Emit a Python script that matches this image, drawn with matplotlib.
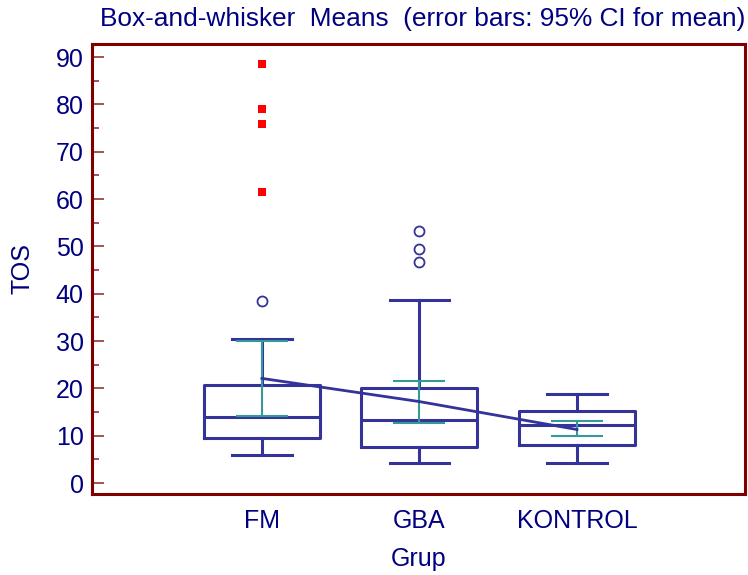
import matplotlib
matplotlib.use("Agg")
import matplotlib.pyplot as plt
import numpy as np
from matplotlib.ticker import MultipleLocator

plt.rcParams['font.family'] = ['Liberation Sans', 'DejaVu Sans']

# Group summaries for TOS
groups = ["FM", "GBA", "KONTROL"]
whisker_low = [5.9, 4.2, 4.3]
q1 = [9.6, 7.7, 8.0]
median = [14.0, 13.4, 12.2]
q3 = [20.7, 20.0, 15.3]
whisker_high = [30.4, 38.7, 18.7]
outside = [[38.5], [46.6, 49.4, 53.2], []]
far_out = [[61.5, 75.9, 79.0, 88.5], [], []]
mean = [22.1, 17.2, 11.3]
ci_low = [14.2, 12.7, 10.0]
ci_high = [29.9, 21.5, 13.2]

navy = "#333399"
teal = "#339999"
text_col = "#000080"
frame_col = "#800000"
fs = 18

fig = plt.figure(figsize=(7.48, 5.75), dpi=100)
ax = fig.add_axes([0.123, 0.1409, 0.873, 0.7826])

pos = np.arange(1, len(groups) + 1)
stats = []
for i, g in enumerate(groups):
    stats.append(dict(label=g, whislo=whisker_low[i], q1=q1[i], med=median[i],
                      q3=q3[i], whishi=whisker_high[i], fliers=outside[i]))

lw = 2.2
ax.bxp(stats, positions=pos, widths=0.737, capwidths=0.38,
       boxprops=dict(color=navy, linewidth=lw),
       whiskerprops=dict(color=navy, linewidth=lw),
       capprops=dict(color=navy, linewidth=lw),
       medianprops=dict(color=navy, linewidth=lw),
       flierprops=dict(marker='o', markerfacecolor='none', markeredgecolor=navy,
                       markersize=7.2, markeredgewidth=1.3),
       manage_ticks=False)

for i, p in enumerate(pos):
    if far_out[i]:
        ax.plot([p] * len(far_out[i]), far_out[i], 's', color='#ff0000',
                markersize=5.6, markeredgewidth=0, zorder=4)

m = np.array(mean)
ax.errorbar(pos, m, yerr=[m - np.array(ci_low), np.array(ci_high) - m],
            fmt='none', ecolor=teal, elinewidth=1.5, capsize=18.4,
            capthick=1.5, zorder=3)
ax.plot(pos, m, color=navy, linewidth=2.0, zorder=5)

ax.set_xlim(1 - 1.079, 3 + 1.067)
ax.set_ylim(-2.32, 92.75)
ax.set_xticks(pos)
ax.set_xticklabels(groups)
ax.yaxis.set_major_locator(MultipleLocator(10))
ax.yaxis.set_minor_locator(MultipleLocator(5))
ax.tick_params(axis='y', which='major', direction='in', length=8.6, width=1.2,
               color='#993333', labelcolor=text_col, labelsize=fs, pad=6)
ax.tick_params(axis='y', which='minor', direction='in', length=5, width=1.2,
               color='#993333')
ax.tick_params(axis='x', length=0, labelcolor=text_col, labelsize=fs, pad=11)
for s in ax.spines.values():
    s.set_color(frame_col)
    s.set_linewidth(2.2)

ax.set_ylabel("TOS", color=text_col, fontsize=fs, labelpad=15)
ax.set_xlabel("Grup", color=text_col, fontsize=fs, labelpad=10)
fig.text(0.997, 0.988, "Box-and-whisker  Means  (error bars: 95% CI for mean)",
         ha='right', va='top', color=text_col, fontsize=18.9)

fig.savefig("out.png", dpi=100)
